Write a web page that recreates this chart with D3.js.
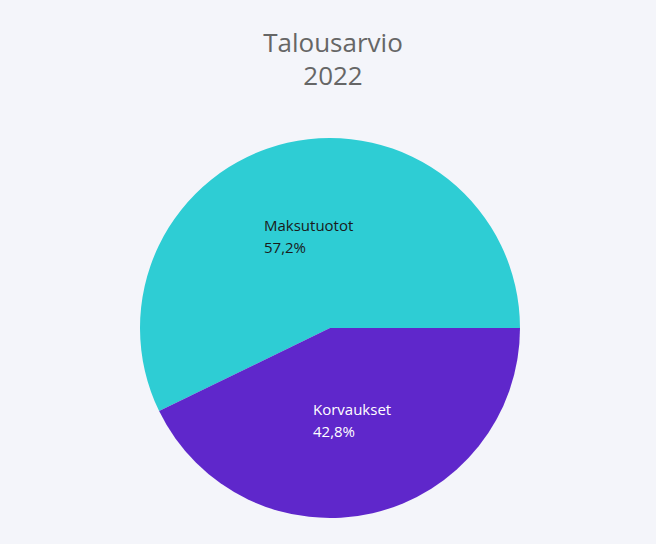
<!DOCTYPE html>
<html>
<head>
<meta charset="utf-8">
<script src="https://cdn.jsdelivr.net/npm/d3@7"></script>
<style>
  html, body { margin: 0; padding: 0; background: #f4f5fa; }
  svg { display: block; font-family: "Open Sans", "Noto Sans", sans-serif; }
</style>
</head>
<body>
<div id="chart"></div>
<script>
const categories = ['Maksutuotot', 'Korvaukset'];
const values = [57.2, 42.8];
const colors = ['#2ecdd4', '#5f27cb'];
const titleLines = ['Talousarvio', '2022'];

const width = 656;
const height = 544;
const cx = 330, cy = 328, radius = 190;

const svg = d3.select('#chart')
  .append('svg')
  .attr('width', width)
  .attr('height', height);

svg.append('rect')
  .attr('width', width)
  .attr('height', height)
  .attr('fill', '#f4f5fa');

const title = svg.append('text')
  .attr('text-anchor', 'middle')
  .attr('fill', '#666666')
  .style('font-size', '26px');

titleLines.forEach((t, i) => {
  title.append('tspan')
    .attr('x', 333)
    .attr('y', 52 + i * 33)
    .text(t);
});

const data = categories.map((c, i) => ({ name: c, value: values[i], color: colors[i] }));

// starts at 3 o'clock, runs counter-clockwise
const pie = d3.pie()
  .sort(null)
  .value(d => d.value)
  .startAngle(Math.PI / 2)
  .endAngle(Math.PI / 2 - 2 * Math.PI);

const arc = d3.arc().innerRadius(0).outerRadius(radius);

const g = svg.append('g').attr('transform', `translate(${cx},${cy})`);

const slices = pie(data);

g.selectAll('path')
  .data(slices)
  .enter()
  .append('path')
  .attr('d', arc)
  .attr('fill', d => d.data.color);

// label positions relative to centre
const labelPos = [[-66, -97], [-17, 87]];
const labelColor = ['#1a1a1a', '#ffffff'];

slices.forEach((s, i) => {
  const t = g.append('text')
    .attr('fill', labelColor[i])
    .style('font-size', '15px');
  t.append('tspan')
    .attr('x', labelPos[i][0])
    .attr('y', labelPos[i][1])
    .text(s.data.name);
  t.append('tspan')
    .attr('x', labelPos[i][0])
    .attr('y', labelPos[i][1] + 22)
    .text(d3.format('.1f')(s.data.value).replace('.', ',') + '%');
});
</script>
</body>
</html>
